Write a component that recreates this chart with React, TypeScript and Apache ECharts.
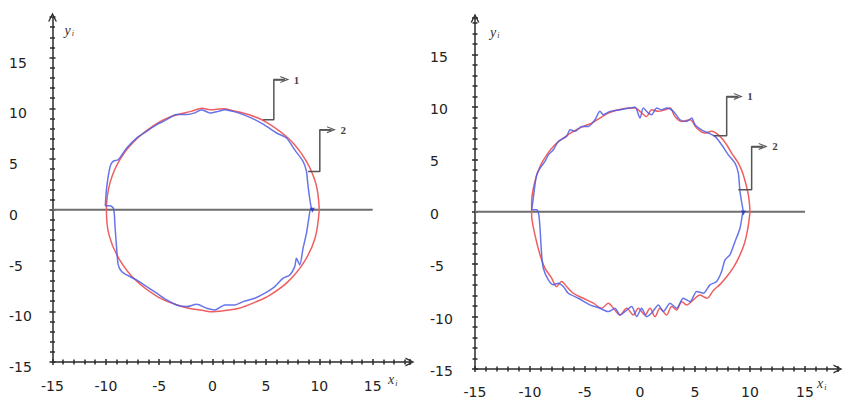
import React, { useEffect, useRef } from "react";
import * as echarts from "echarts";

// ---------- data ----------
const axisTickValues = [-15, -10, -5, 0, 5, 10, 15];
const zeroLine: number[][] = [[-15, 0], [15, 0]];

// left panel
const leftRed: number[][] = [
  [10.0, 0], [9.7, 2.5], [8.75, 4.85], [7.2, 6.95], [5.1, 8.6], [3.5, 9.35], [2.0, 9.75], [1.0, 9.95],
  [-0.2, 9.85], [-1.0, 10.0], [-2.0, 9.7], [-3.4, 9.35], [-5.0, 8.65], [-7.0, 7.1], [-8.6, 5.1],
  [-9.6, 2.7], [-9.95, 0], [-9.7, -2.5], [-8.75, -4.85], [-7.2, -6.95], [-5.1, -8.6], [-3.4, -9.35],
  [-2.0, -9.75], [-1.0, -9.9], [0, -10.05], [1.0, -9.95], [2.5, -9.7], [4.0, -9.1], [5.3, -8.45],
  [7.0, -7.15], [8.6, -5.1], [9.6, -2.8], [10.0, 0],
];
const leftBlue: number[][] = [
  [9.4, 0.0], [9.25, 0.2], [9.05, 1.5], [8.9, 2.8], [8.8, 3.8], [8.48, 4.77], [7.7, 5.9], [6.93, 7.08],
  [6.0, 7.57], [5.06, 8.22], [3.96, 8.88], [2.87, 9.38], [1.93, 9.7], [1.15, 9.87], [0.52, 9.7],
  [-0.25, 9.55], [-1.03, 9.87], [-1.66, 9.55], [-2.43, 9.38], [-3.37, 9.38], [-4.3, 8.88], [-5.24, 8.39],
  [-6.18, 7.73], [-7.12, 7.07], [-8.05, 6.09], [-8.84, 4.94], [-9.3, 4.8], [-9.6, 4.27], [-9.93, 2.14],
  [-10.05, 0.4], [-9.6, 0.4], [-9.3, 0.17], [-9.2, -0.5], [-9.15, -1.48], [-8.99, -3.78], [-8.84, -5.43],
  [-8.52, -6.09], [-8.05, -6.42], [-7.12, -6.91], [-6.18, -7.57], [-5.24, -8.22], [-4.3, -8.88],
  [-3.37, -9.38], [-2.43, -9.54], [-1.5, -9.31], [-0.56, -9.7], [0.22, -9.87], [1.15, -9.38],
  [2.09, -9.38], [2.87, -9.05], [3.96, -8.72], [4.9, -8.22], [5.83, -7.57], [6.61, -6.74], [7.24, -6.42],
  [7.7, -5.6], [7.86, -4.77], [8.17, -5.43], [8.48, -3.78], [8.8, -2.3], [9.02, -0.82], [9.2, 0.1], [9.4, 0.0],
];
const leftLeader1: number[][] = [[4.74, 8.88], [5.74, 8.88], [5.74, 12.83], [6.77, 12.83]];
const leftLeader2: number[][] = [[8.95, 3.78], [10.05, 3.78], [10.05, 7.9], [11.14, 7.9]];
const leftMarks: number[][] = [[9.35, -0.05]];

// right panel
const rightRed: number[][] = [
  [10.0, 0], [9.85, 1.62], [9.39, 3.53], [8.94, 4.65], [8.33, 5.6], [7.88, 6.4], [7.27, 7.2], [6.5, 7.68],
  [5.9, 7.52], [5.15, 8.0], [4.55, 8.79], [3.79, 8.63], [3.18, 9.1], [2.73, 9.9], [2.27, 9.74], [1.67, 9.59],
  [1.06, 9.74], [0.6, 9.1], [0, 9.59], [-0.45, 9.9], [-0.91, 9.9], [-1.97, 9.74], [-2.88, 9.42],
  [-3.64, 8.95], [-4.39, 8.47], [-5.15, 8.15], [-6.06, 7.68], [-6.97, 7.04], [-7.73, 6.4], [-8.48, 5.44],
  [-9.09, 4.33], [-9.55, 2.9], [-9.85, 0.99], [-9.85, -0.29], [-9.55, -2.2], [-9.09, -4.1], [-8.64, -5.38],
  [-8.03, -6.33], [-7.58, -7.13], [-7.12, -6.65], [-6.67, -7.13], [-6.06, -7.77], [-5.15, -8.25],
  [-4.24, -8.72], [-3.48, -9.2], [-2.88, -8.72], [-2.42, -9.2], [-1.82, -9.84], [-1.21, -9.2],
  [-0.61, -9.84], [-0.15, -9.2], [0.45, -9.84], [0.91, -9.2], [1.36, -10.0], [1.82, -9.2], [2.42, -9.84],
  [2.88, -9.04], [3.33, -9.36], [3.79, -8.57], [4.24, -8.88], [4.85, -8.41], [5.45, -7.93], [6.06, -8.25],
  [6.67, -7.5], [7.3, -6.9], [7.95, -6.1], [8.55, -5.2], [9.05, -4.2], [9.5, -3.0], [9.8, -1.6], [10.0, 0],
];
const rightBlue: number[][] = [
  [9.39, 0.03], [9.09, 1.94], [8.94, 3.69], [8.64, 4.65], [8.03, 5.44], [7.42, 6.4], [6.82, 7.2],
  [6.21, 7.52], [5.6, 7.83], [5.0, 8.31], [4.7, 8.95], [4.24, 8.63], [3.64, 8.79], [3.03, 9.59],
  [2.42, 9.9], [1.97, 9.74], [1.52, 9.9], [1.06, 9.27], [0.76, 9.42], [0.3, 9.9], [0.0, 8.95],
  [-0.45, 10.0], [-0.9, 9.9], [-1.82, 9.74], [-2.73, 9.59], [-3.33, 9.27], [-3.64, 9.59], [-4.09, 8.79],
  [-4.7, 8.15], [-5.3, 8.15], [-5.91, 7.68], [-6.36, 7.84], [-6.67, 7.2], [-7.42, 6.72], [-7.88, 5.92],
  [-8.33, 5.44], [-8.64, 4.81], [-9.09, 4.17], [-9.39, 3.53], [-9.55, 2.58], [-9.7, 1.3], [-9.85, 0.19],
  [-9.39, 0.19], [-9.2, -0.3], [-9.09, -1.56], [-8.94, -4.1], [-8.79, -5.38], [-8.33, -6.5],
  [-7.88, -6.97], [-7.42, -6.81], [-6.97, -7.13], [-6.52, -7.77], [-5.6, -8.25], [-4.55, -8.88],
  [-3.64, -9.2], [-2.88, -9.52], [-2.27, -9.2], [-1.82, -9.84], [-1.36, -9.52], [-0.76, -9.04],
  [-0.3, -10.0], [0.15, -9.2], [0.6, -10.0], [1.1, -9.6], [1.67, -8.88], [2.12, -9.52], [2.73, -8.72],
  [3.33, -9.2], [3.94, -8.25], [4.55, -8.57], [5.15, -7.6], [5.76, -7.77], [6.36, -6.97], [6.97, -6.65],
  [7.42, -5.7], [7.73, -4.58], [8.18, -4.1], [8.64, -2.83], [9.09, -1.56], [9.33, -0.13], [9.39, 0.03],
];
const rightLeader1: number[][] = [[6.67, 7.26], [7.88, 7.26], [7.88, 11.01], [8.94, 11.01]];
const rightLeader2: number[][] = [[8.94, 2.1], [10.15, 2.1], [10.15, 6.24], [11.2, 6.24]];
const rightMarks: number[][] = [[9.4, -0.1]];

const leaderLabels = ["1", "2"];

// ---------- styling ----------
const CHEVRON = "path://M5,0 L10,10 L8.4,10 L5,3.2 L1.6,10 L0,10 Z";
const AXIS_COLOR = "#2b2b2b";
const RED = "#ef5f5f";
const BLUE = "#4d5de6";
const LABEL_FONT = "DejaVu Sans";

function nameRich() {
  return {
    v: { fontFamily: "Liberation Serif", fontStyle: "italic", fontSize: 14, color: "#333" },
    s: { fontFamily: "Liberation Serif", fontStyle: "italic", fontSize: 8, color: "#333", padding: [7, 0, 0, 1] },
  };
}

const tickLine = { color: AXIS_COLOR, width: 1.5 };

// primary axis: line + outer ticks + labels + name
function makeX(gridIndex: number, max: number, margin: number, nameGap: number, namePadTop: number) {
  return {
    type: "value",
    gridIndex,
    position: "bottom",
    min: -15,
    max,
    interval: 5,
    axisLine: { show: true, onZero: false, symbol: ["none", CHEVRON], symbolSize: [9, 11], lineStyle: tickLine },
    axisTick: { show: true, length: 3, lineStyle: tickLine },
    minorTick: { show: true, splitNumber: 5, length: 2.5, lineStyle: tickLine },
    splitLine: { show: false },
    minorSplitLine: { show: false },
    axisLabel: {
      interval: 0,
      margin,
      formatter: (v: number) => (axisTickValues.indexOf(v) >= 0 ? String(v) : ""),
      fontFamily: LABEL_FONT,
      fontSize: 14,
      color: "#222",
    },
    name: "{v|x}{s|i}",
    nameLocation: "end",
    nameGap,
    nameMoveOverlap: false,
    nameTextStyle: { align: "left", verticalAlign: "top", padding: [namePadTop, 0, 0, 0], rich: nameRich() },
  };
}

function makeY(gridIndex: number, max: number, margin: number, shift: number, nameGap: number, namePadLeft: number) {
  return {
    type: "value",
    gridIndex,
    position: "left",
    min: -15,
    max,
    interval: 5,
    axisLine: { show: true, onZero: false, symbol: ["none", CHEVRON], symbolSize: [9, 11], lineStyle: tickLine },
    axisTick: { show: true, length: 3, lineStyle: tickLine },
    minorTick: { show: true, splitNumber: 5, length: 2.5, lineStyle: tickLine },
    splitLine: { show: false },
    minorSplitLine: { show: false },
    axisLabel: {
      interval: 0,
      margin,
      formatter: (v: number) => (axisTickValues.indexOf(v) >= 0 ? "{a|" + v + "}" : ""),
      rich: {
        a: {
          width: 30,
          align: "left",
          fontFamily: LABEL_FONT,
          fontSize: 14,
          color: "#222",
          padding: [shift * 2, 0, 0, 0],
        },
      },
    },
    name: "{v|y}{s|i}",
    nameLocation: "end",
    nameGap,
    nameMoveOverlap: false,
    nameTextStyle: { align: "left", verticalAlign: "middle", padding: [0, 0, 0, namePadLeft], rich: nameRich() },
  };
}

// secondary axis: inner ticks only (so ticks cross the axis line)
function innerX(gridIndex: number, max: number) {
  return {
    type: "value",
    gridIndex,
    position: "bottom",
    min: -15,
    max,
    interval: 5,
    axisLine: { show: false, onZero: false },
    axisTick: { show: true, inside: true, length: 3, lineStyle: tickLine },
    minorTick: { show: true, splitNumber: 5, length: 2.5, lineStyle: tickLine },
    splitLine: { show: false },
    axisLabel: { show: false },
  };
}
function innerY(gridIndex: number, max: number) {
  return {
    type: "value",
    gridIndex,
    position: "left",
    min: -15,
    max,
    interval: 5,
    axisLine: { show: false, onZero: false },
    axisTick: { show: true, inside: true, length: 3, lineStyle: tickLine },
    minorTick: { show: true, splitNumber: 5, length: 2.5, lineStyle: tickLine },
    splitLine: { show: false },
    axisLabel: { show: false },
  };
}

function leader(idx: number, pts: number[][], label: string) {
  return {
    type: "line",
    xAxisIndex: idx,
    yAxisIndex: idx,
    data: pts,
    symbol: "none",
    silent: true,
    z: 4,
    lineStyle: { color: "#555", width: 1.5 },
    markLine: {
      silent: true,
      symbol: ["none", CHEVRON],
      symbolSize: [7, 9],
      lineStyle: { color: "#555", width: 1.5, type: "solid" },
      label: {
        show: true,
        position: "end",
        distance: 9,
        formatter: label,
        fontFamily: "Liberation Serif",
        fontWeight: "bold",
        fontSize: 11,
        color: "#444",
      },
      data: [[{ coord: pts[2] }, { coord: pts[3] }]],
    },
  };
}

function panelSeries(idx: number, red: number[][], blue: number[][], l1: number[][], l2: number[][], marks: number[][]) {
  return [
    {
      type: "line",
      xAxisIndex: idx,
      yAxisIndex: idx,
      data: zeroLine,
      symbol: "none",
      silent: true,
      z: 1,
      lineStyle: { color: "#6e6e6e", width: 2 },
    },
    {
      type: "line",
      xAxisIndex: idx,
      yAxisIndex: idx,
      data: red,
      symbol: "none",
      smooth: 0.35,
      silent: true,
      z: 2,
      lineStyle: { color: RED, width: 1.5 },
    },
    {
      type: "line",
      xAxisIndex: idx,
      yAxisIndex: idx,
      data: blue,
      symbol: "none",
      smooth: 0.25,
      silent: true,
      z: 3,
      lineStyle: { color: BLUE, width: 1.5, opacity: 0.85 },
    },
    {
      type: "scatter",
      xAxisIndex: idx,
      yAxisIndex: idx,
      data: marks,
      symbol: "triangle",
      symbolRotate: 180,
      symbolSize: 5,
      silent: true,
      z: 3,
      itemStyle: { color: "#2a36b8" },
    },
    leader(idx, l1, leaderLabels[0]),
    leader(idx, l2, leaderLabels[1]),
  ];
}

export default function App() {
  const ref = useRef<HTMLDivElement>(null);
  useEffect(() => {
    if (!ref.current) return;
    const chart = echarts.init(ref.current, undefined, { renderer: "svg" });
    chart.setOption({
      animation: false,
      backgroundColor: "#ffffff",
      grid: [
        { left: 52.5, top: 17, width: 357.5, height: 345, containLabel: false, outerBoundsMode: "none" },
        { left: 475, top: 18, width: 363, height: 351, containLabel: false, outerBoundsMode: "none" },
      ],
      xAxis: [
        makeX(0, 18.5, 17, -22, 10),
        makeX(1, 18, 16, -21, 7),
        innerX(0, 18.5),
        innerX(1, 18),
      ],
      yAxis: [
        makeY(0, 19, 13.5, 5, -13, 12),
        makeY(1, 18.5, 15, 2, -14, 15),
        innerY(0, 19),
        innerY(1, 18.5),
      ],
      series: [
        ...panelSeries(0, leftRed, leftBlue, leftLeader1, leftLeader2, leftMarks),
        ...panelSeries(1, rightRed, rightBlue, rightLeader1, rightLeader2, rightMarks),
      ],
    });
    return () => chart.dispose();
  }, []);
  return (
    <div
      ref={ref}
      style={{ position: "absolute", left: 0, top: 0, width: 851, height: 402, background: "#fff" }}
    />
  );
}
